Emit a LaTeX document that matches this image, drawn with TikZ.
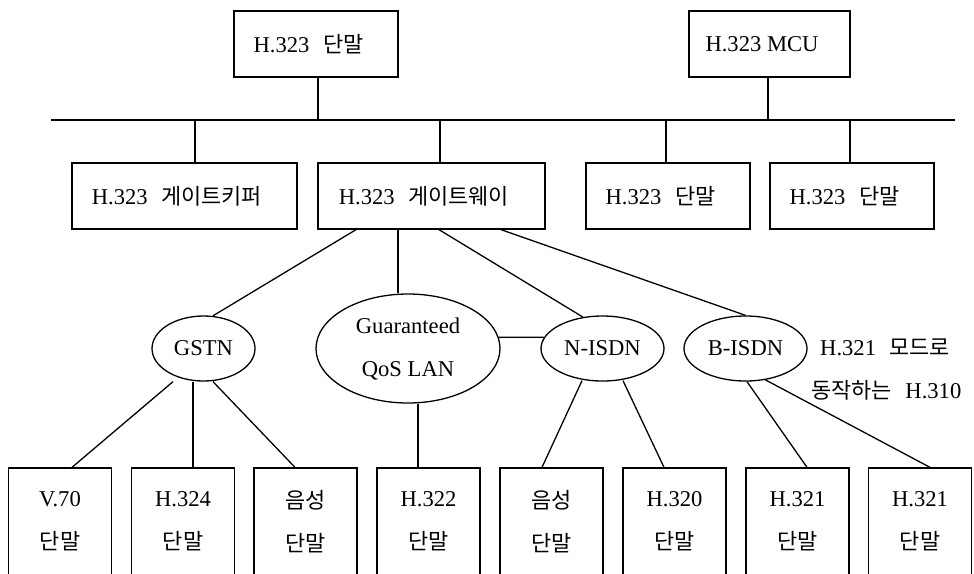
\documentclass[tikz,border=0pt]{standalone}
\usepackage{fontspec}
\setmainfont{Liberation Serif}
\newfontfamily\kr{Noto Sans CJK KR}[Scale=0.97]
\usetikzlibrary{shapes.geometric,calc}
\newcommand{\ko}[1]{{\kr #1}}
\newcommand{\gp}{\hspace{0.6em}}
% label text sits a little left of the box centre
\newcommand{\lft}[1]{#1\hspace{15pt}}
\begin{document}
\begin{tikzpicture}[x=1pt,y=-1pt,
  every node/.style={font=\fontsize{22.6}{27}\selectfont, inner sep=0pt},
  unit/.style={draw, line width=1.3pt, minimum height=66, align=center},
  net/.style={draw, line width=1.3pt, ellipse, align=center},
  term/.style={draw, line width=1.3pt, minimum width=103, minimum height=107,
    align=center, font=\fontsize{22.6}{43}\selectfont},
  link/.style={line width=1.3pt}]
\useasboundingbox (0,0) rectangle (974,573);
\clip (0,0) rectangle (974,573);

% top row
\node[unit, minimum width=164] (top) at (316,44) {\lft{H.323\gp\ko{단말}}};
\node[unit, minimum width=161] (mcu) at (769.5,44) {\lft{H.323 MCU}};

% LAN bus
\coordinate (busL) at (51,120);
\coordinate (busR) at (955,120);
\draw[link] (busL) -- (busR);

% second row
\node[unit, minimum width=225] (gk) at (184.5,196) {\lft{H.323\gp\ko{게이트키퍼}}};
\node[unit, minimum width=227] (gw) at (431.5,196) {\lft{H.323\gp\ko{게이트웨이}}};
\node[unit, minimum width=164] (t1) at (668,196) {\lft{H.323\gp\ko{단말}}};
\node[unit, minimum width=164] (t2) at (852,196) {\lft{H.323\gp\ko{단말}}};

% taps onto the bus
\coordinate (tapTop) at (318,120);
\coordinate (tapMcu) at (768,120);
\coordinate (tapGk) at (195,120);
\coordinate (tapGw) at (440,120);
\coordinate (tapT1) at (666,120);
\coordinate (tapT2) at (850,120);
\draw[link] (tapTop |- top.south) -- (tapTop);
\draw[link] (tapMcu |- mcu.south) -- (tapMcu);
\draw[link] (tapGk) -- (tapGk |- gk.north);
\draw[link] (tapGw) -- (tapGw |- gw.north);
\draw[link] (tapT1) -- (tapT1 |- t1.north);
\draw[link] (tapT2) -- (tapT2 |- t2.north);

% networks
\node[net, minimum width=103, minimum height=65] (gstn) at (203.5,348.5) {GSTN};
\node[net, minimum width=184, minimum height=109, font=\fontsize{22.6}{43}\selectfont] (qos) at (408,348.5) {Guaranteed\\QoS LAN};
\node[net, minimum width=123, minimum height=65] (nisdn) at (602.5,348.5) {N-ISDN};
\node[net, minimum width=123, minimum height=65] (bisdn) at (745.5,348.5) {B-ISDN};
\node[anchor=west] (note1) at (820,347) {H.321\gp\ko{모드로}};
\node[anchor=west] (note2) at (811,390) {\ko{동작하는}\gp H.310};

% gateway to networks
\coordinate (g1) at ($(gw.south)+(-75.5,0)$);
\coordinate (g2) at ($(gw.south)+(-33.5,0)$);
\coordinate (g3) at ($(gw.south)+(7.5,0)$);
\coordinate (g4) at ($(gw.south)+(69.5,0)$);
\draw[link] (g1) -- (gstn.74);
\draw[link] (g2) -- (g2 |- qos.north);
\draw[link] (g3) -- (nisdn.122);
\draw[link] (g4) -- (bisdn.north);
\draw[link] (qos.7) -- (nisdn.169);

% terminals
\node[term] (b1) at (60,521.5) {V.70\\\ko{단말}};
\node[term] (b2) at (183,521.5) {H.324\\\ko{단말}};
\node[term] (b3) at (305.5,521.5) {\ko{음성}\\\ko{단말}};
\node[term] (b4) at (428.5,521.5) {H.322\\\ko{단말}};
\node[term] (b5) at (551.5,521.5) {\ko{음성}\\\ko{단말}};
\node[term] (b6) at (674.5,521.5) {H.320\\\ko{단말}};
\node[term] (b7) at (797.5,521.5) {H.321\\\ko{단말}};
\node[term] (b8) at (920,521.5) {H.321\\\ko{단말}};

% networks to terminals
\coordinate (s1) at ($(gstn.south)+(-30.5,0)$);
\coordinate (s2) at ($(gstn.south)+(-10.5,0)$);
\coordinate (s3) at ($(gstn.south)+(9.5,0)$);
\coordinate (s4) at ($(qos.south)+(10,0)$);
\coordinate (s5) at ($(nisdn.south)+(-20.5,-1)$);
\coordinate (s6) at ($(nisdn.south)+(20.5,-1)$);
\coordinate (s7) at ($(bisdn.south)+(1.5,0)$);
\coordinate (s8) at ($(bisdn.south)+(19.5,-2)$);
\draw[link] (s1) -- ($(b1.north)+(12,0)$);
\draw[link] (s2) -- (s2 |- b2.north);
\draw[link] (s3) -- ($(b3.north)+(-10.5,0)$);
\draw[link] (s4) -- (s4 |- b4.north);
\draw[link] (s5) -- ($(b5.north)+(-9.5,0)$);
\draw[link] (s6) -- ($(b6.north)+(-10.5,0)$);
\draw[link] (s7) -- ($(b7.north)+(9.5,0)$);
\draw[link] (s8) -- ($(b8.north)+(10,0)$);
\end{tikzpicture}
\end{document}
